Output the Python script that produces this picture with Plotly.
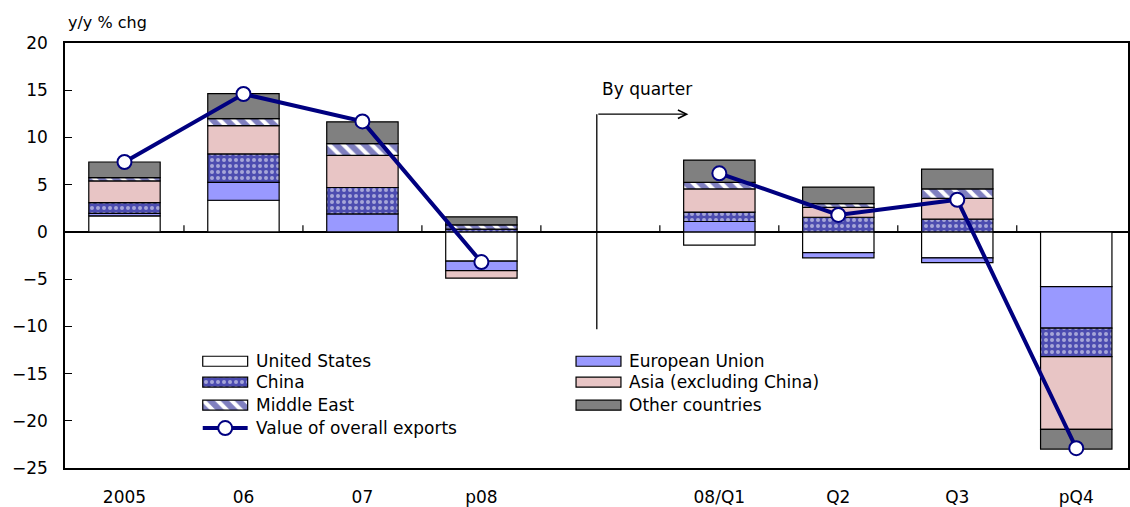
import plotly.graph_objects as go

# Contributions to y/y export growth by destination (percentage points)
categories = ["2005", "06", "07", "p08", " ", "08/Q1", "Q2", "Q3", "pQ4"]
united_states = [1.7, 3.35, 0.0, -3.1, None, -1.4, -2.2, -2.75, -5.8]
european_union = [0.25, 1.9, 1.9, -1.0, None, 1.1, -0.55, -0.5, -4.4]
china = [1.15, 3.0, 2.8, 0.3, None, 1.0, 1.55, 1.35, -3.0]
asia_ex_china = [2.3, 3.0, 3.4, -0.8, None, 2.45, 1.05, 2.2, -7.7]
middle_east = [0.35, 0.75, 1.25, 0.45, None, 0.7, 0.4, 1.0, 0.0]
other_countries = [1.65, 2.65, 2.3, 0.85, None, 2.35, 1.75, 2.1, -2.1]
overall_exports = [7.4, 14.6, 11.7, -3.2, None, 6.2, 1.8, 3.4, -22.9]

series_names = ["United States", "European Union", "China",
                "Asia (excluding China)", "Middle East", "Other countries"]
line_name = "Value of overall exports"
y_ticks = [-25, -20, -15, -10, -5, 0, 5, 10, 15, 20]

FONT = "DejaVu Sans, Arial, sans-serif"
FS = 17
NAVY = "#000080"
edge = dict(color="black", width=1.2)

styles = [
    dict(color="white", line=edge),
    dict(color="#9999ff", line=edge),
    dict(color="#4c4cb0", line=edge,
         pattern=dict(shape=".", bgcolor="#4c4cb0", fgcolor="white", size=6, solidity=0.35)),
    dict(color="#e8c5c5", line=edge),
    dict(color="white", line=edge,
         pattern=dict(shape="\\", bgcolor="white", fgcolor=NAVY, size=10, solidity=0.6)),
    dict(color="#808080", line=edge),
]
values = [united_states, european_union, china, asia_ex_china, middle_east, other_countries]

W, H = 1130, 507
ML, MR, MT, MB = 65, 0, 43, 38
PW, PH = W - ML - MR, H - MT - MB

fig = go.Figure()

for name, vals, marker in zip(series_names, values, styles):
    fig.add_trace(go.Bar(x=categories, y=vals, name=name, marker=marker,
                         width=0.6, showlegend=False))

line_style = dict(color=NAVY, width=4)
marker_style = dict(size=14, color="white", line=dict(color=NAVY, width=2))
fig.add_trace(go.Scatter(x=categories, y=overall_exports, name=line_name,
                         mode="lines+markers", connectgaps=False,
                         line=line_style, marker=marker_style, showlegend=False))

# Legend keys drawn on a pixel-unit overlay (x2/y2 span the plot area)
key_w, key_h = 45, 10
key_cols = [203, 577]
key_rows = [362, 383, 406, 429]
legend_slots = [(0, 0), (1, 0), (0, 1), (1, 1), (0, 2), (1, 2)]
for name, marker, (c, r) in zip(series_names, styles, legend_slots):
    fig.add_trace(go.Bar(x=[key_w], base=[key_cols[c]], y=[key_rows[r]], width=[key_h],
                         orientation="h", marker=marker, xaxis="x2", yaxis="y2",
                         showlegend=False, hoverinfo="skip"))
    fig.add_annotation(x=key_cols[c] + key_w + 6, y=key_rows[r], xref="x2", yref="y2",
                       text=name, showarrow=False, xanchor="left", yanchor="middle",
                       font=dict(family=FONT, size=FS, color="black"))
fig.add_trace(go.Scatter(x=[key_cols[0], key_cols[0] + key_w], y=[key_rows[3]] * 2,
                         mode="lines", line=line_style, xaxis="x2", yaxis="y2",
                         showlegend=False, hoverinfo="skip"))
fig.add_trace(go.Scatter(x=[key_cols[0] + key_w / 2], y=[key_rows[3]],
                         mode="markers", marker=marker_style, xaxis="x2", yaxis="y2",
                         showlegend=False, hoverinfo="skip"))
fig.add_annotation(x=key_cols[0] + key_w + 6, y=key_rows[3], xref="x2", yref="y2",
                   text=line_name, showarrow=False, xanchor="left", yanchor="middle",
                   font=dict(family=FONT, size=FS, color="black"))

# small upward ticks on the zero line at category boundaries
for i in range(len(categories) - 1):
    fig.add_shape(type="line", xref="x", yref="y", x0=i + 0.5, x1=i + 0.5,
                  y0=0, y1=0.7, line=dict(color="black", width=1.2))

# divider between annual and quarterly figures
fig.add_shape(type="line", xref="x", yref="y", x0=3.97, x1=3.97, y0=-10.3, y1=12.46,
              line=dict(color="black", width=1.3))
fig.add_annotation(x=4.74, y=12.46, ax=3.97, ay=12.46, xref="x", yref="y",
                   axref="x", ayref="y", text="", showarrow=True,
                   arrowhead=5, arrowsize=1.3, arrowwidth=1.3, arrowcolor="black")
fig.add_annotation(x=4.39, y=15.1, xref="x", yref="y", text="By quarter",
                   showarrow=False, font=dict(family=FONT, size=FS, color="black"))
fig.add_annotation(x=(66 - ML) / PW, y=(H - MB - 22) / PH, xref="paper", yref="paper",
                   text="y/y % chg", showarrow=False, xanchor="left", yanchor="middle",
                   font=dict(family=FONT, size=16, color="black"))

fig.update_layout(
    width=W, height=H,
    margin=dict(l=ML, r=MR, t=MT, b=MB),
    paper_bgcolor="white", plot_bgcolor="white",
    barmode="relative",
    font=dict(family=FONT, size=FS, color="black"),
    showlegend=False,
    xaxis=dict(type="category", categoryorder="array", categoryarray=categories,
               range=[-0.5, 8.435], showline=True, mirror=True, linecolor="black",
               linewidth=1.5, ticks="", showgrid=False, zeroline=False,
               ticklabelstandoff=13, tickfont=dict(family=FONT, size=FS)),
    yaxis=dict(range=[-25, 20], tickvals=y_ticks, showline=True, mirror=True,
               linecolor="black", linewidth=1.5, ticks="inside", ticklen=7,
               tickcolor="black", tickwidth=1.2, showgrid=False,
               zeroline=True, zerolinecolor="black", zerolinewidth=1.5,
               ticklabelstandoff=12, tickfont=dict(family=FONT, size=FS)),
    xaxis2=dict(overlaying="x", anchor="y2", range=[ML, W - MR], visible=False,
                fixedrange=True),
    yaxis2=dict(overlaying="y", anchor="x2", range=[H - MB, MT], visible=False,
                fixedrange=True),
)

fig.write_html("out.html")
